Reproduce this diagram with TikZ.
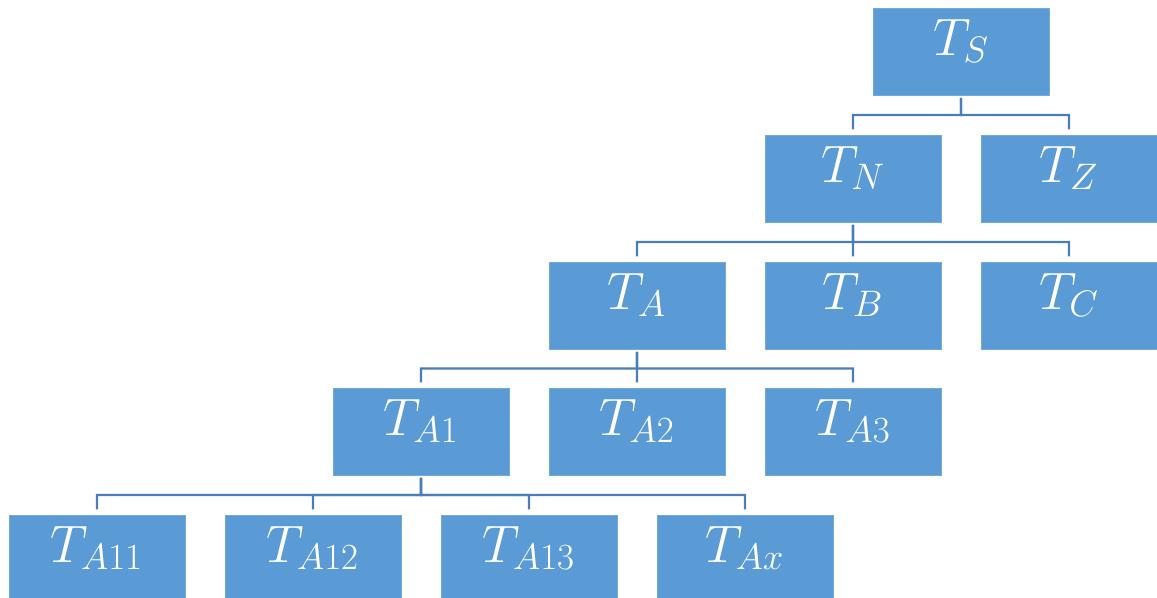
\RequirePackage{fix-cm}
\documentclass[tikz,border=0pt]{standalone}
\usepackage{xcolor}
\usetikzlibrary{positioning,calc}
\definecolor{boxblue}{HTML}{5B9BD5}
\definecolor{linkblue}{HTML}{4A7EB8}

\begin{document}
\begin{tikzpicture}[x=0.02cm,y=-0.02cm,
  tbox/.style={fill=boxblue,draw=boxblue!85!white,line width=0.3pt,minimum width=3.52cm,minimum height=1.74cm,
    inner sep=0pt,text=white,font=\fontsize{30}{34}\selectfont},
  link/.style={draw=linkblue,line width=1.4pt,shorten <=1.5,shorten >=3}]
\useasboundingbox (0,0) rectangle (1157,598);
% boxes, row by row
\foreach \name/\x/\y/\lab in {ts/961/51.5/S, tn/853/178.5/N, tz/1069/178.5/Z,
  ta/637/305.5/A, tb/853/305.5/B, tc/1069/305.5/C,
  taI/421/431.5/A1, taII/637/431.5/A2, taIII/853/431.5/A3,
  taXI/97/558.5/A11, taXII/313/558.5/A12, taXIII/529/558.5/A13, tax/745/558.5/Ax}
  {\node[tbox] (\name) at (\x,\y) {\smash{\raisebox{-2pt}{$T_{\lab}$}}};}
% connectors
\foreach \p/\c in {ts/tn, ts/tz, tn/ta, tn/tb, tn/tc, ta/taI, ta/taII, ta/taIII,
  taI/taXI, taI/taXII, taI/taXIII, taI/tax}
  {\draw[link] (\p.south) -- ($(\p.south)!0.5!(\p.south|-\c.north)$) -| (\c.north);}
\end{tikzpicture}
\end{document}
